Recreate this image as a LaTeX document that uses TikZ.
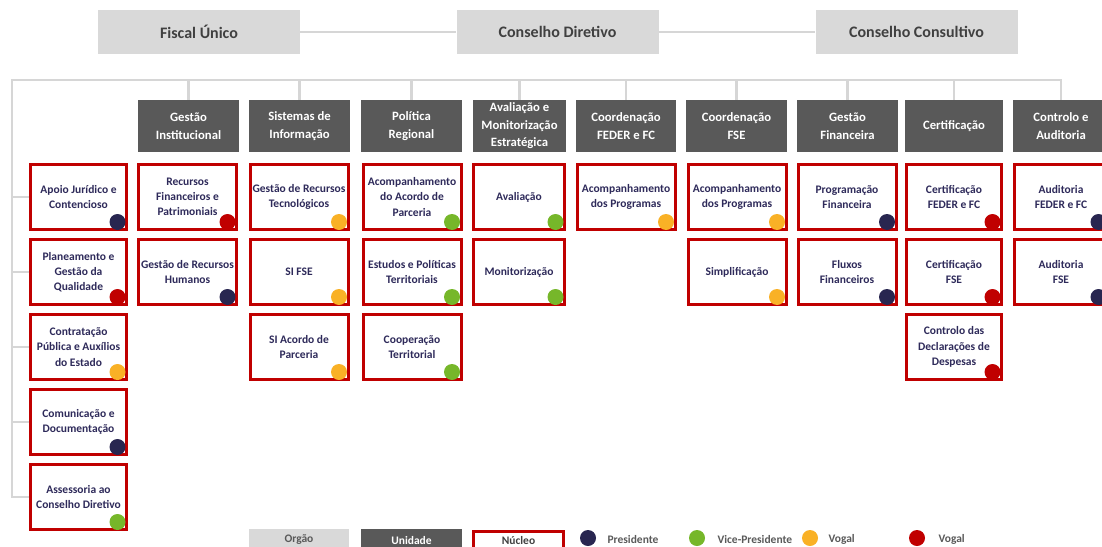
\documentclass[tikz,border=0pt]{standalone}
\usepackage{fontspec}
\setmainfont{Carlito}
\usepackage{tikz}
\usetikzlibrary{positioning}

\definecolor{orggray}{HTML}{D9D9D9}
\definecolor{unitgray}{HTML}{595959}
\definecolor{nucred}{HTML}{C00000}
\definecolor{navytxt}{RGB}{46,42,90}
\definecolor{pres}{RGB}{40,38,80}
\definecolor{vice}{RGB}{118,183,42}
\definecolor{vogal}{RGB}{249,177,38}
\definecolor{vogalr}{HTML}{C00000}
\definecolor{linegray}{HTML}{D6D6D6}
\definecolor{titletxt}{HTML}{404040}

\tikzset{
  orgao/.style={fill=orggray,minimum width=202pt,minimum height=44pt,text=titletxt,font=\fontsize{16}{19}\selectfont\bfseries},
  unidade/.style={fill=unitgray,minimum width=101pt,minimum height=52pt,text=white,align=center,inner sep=1pt,font=\fontsize{12.7}{17.5}\selectfont\bfseries},
  nucleo/.style={draw=nucred,line width=3pt,fill=white,minimum width=98pt,minimum height=65pt,text=navytxt,align=center,inner sep=1pt,font=\fontsize{11.5}{15.3}\selectfont\bfseries},
  dot/.style={circle,minimum size=16pt,inner sep=0pt},
  tree/.style={draw=linegray,line width=2.5pt},
  legtxt/.style={anchor=west,text=unitgray,font=\fontsize{11.5}{14}\selectfont\bfseries},
}

\begin{document}
\begin{tikzpicture}[x=1pt,y=-1pt]
\useasboundingbox (0,0) rectangle (1102,546);

% orgaos
\node[orgao] (fiscal) at (199,32) {Fiscal Único};
\node[orgao] (diretivo) at (557.5,32) {Conselho Diretivo};
\node[orgao] (consultivo) at (916.5,32) {Conselho Consultivo};
\draw[tree] (fiscal) -- (diretivo) -- (consultivo);

% unidades
\node[unidade] (gi) at (188.5,126) {Gestão\\Institucional};
\node[unidade] (si) at (299.5,126) {Sistemas de\\Informação};
\node[unidade] (pr) at (411.5,126) {Política\\Regional};
\node[unidade,minimum width=93pt] (ame) at (519.5,126) {Avaliação e\\Monitorização\\Estratégica};
\node[unidade,minimum width=100pt] (cff) at (626,126) {Coordenação\\FEDER e FC};
\node[unidade] (cfse) at (736.5,126) {Coordenação\\FSE};
\node[unidade] (gf) at (847.5,126) {Gestão\\Financeira};
\node[unidade,minimum width=98pt] (cert) at (954,126) {Certificação};
\node[unidade,minimum width=96pt] (ca) at (1061,126) {Controlo e\\Auditoria};

% nucleos
\node[nucleo,minimum width=96pt] (apoio) at (78.5,197) {Apoio Jurídico e\\Contencioso};
\node[nucleo,minimum width=96pt] (planeam) at (78.5,272) {Planeamento e\\Gestão da\\Qualidade};
\node[nucleo,minimum width=96pt] (contrat) at (78.5,347) {Contratação\\Pública e Auxílios\\do Estado};
\node[nucleo,minimum width=96pt] (comunic) at (78.5,422) {Comunicação e\\Documentação};
\node[nucleo,minimum width=96pt] (assess) at (78.5,497) {Assessoria ao\\Conselho Diretivo};

\node[nucleo] (rfp) at (187.5,197) {Recursos\\Financeiros e\\Patrimoniais};
\node[nucleo] (grh) at (187.5,272) {Gestão de Recursos\\Humanos};

\node[nucleo] (grt) at (299,197) {Gestão de Recursos\\Tecnológicos};
\node[nucleo] (sifse) at (299,272) {SI FSE};
\node[nucleo] (siap) at (299,347) {SI Acordo de\\Parceria};

\node[nucleo] (aap) at (412,197) {Acompanhamento\\do Acordo de\\Parceria};
\node[nucleo] (ept) at (412,272) {Estudos e Políticas\\Territoriais};
\node[nucleo] (coop) at (412,347) {Cooperação\\Territorial};

\node[nucleo,minimum width=91pt] (aval) at (519,197) {Avaliação};
\node[nucleo,minimum width=91pt] (monit) at (519,272) {Monitorização};

\node[nucleo] (apff) at (626,197) {Acompanhamento\\dos Programas};

\node[nucleo] (apfse) at (737,197) {Acompanhamento\\dos Programas};
\node[nucleo] (simpl) at (737,272) {Simplificação};

\node[nucleo] (progf) at (847,197) {Programação\\Financeira};
\node[nucleo] (fluxf) at (847,272) {Fluxos\\Financeiros};

\node[nucleo,minimum width=95pt] (certff) at (954,197) {Certificação\\FEDER e FC};
\node[nucleo,minimum width=95pt] (certfse) at (954,272) {Certificação\\FSE};
\node[nucleo,minimum width=95pt] (cdd) at (954,347) {Controlo das\\Declarações de\\Despesas};

\node[nucleo,minimum width=93pt] (audff) at (1061,197) {Auditoria\\FEDER e FC};
\node[nucleo,minimum width=93pt] (audfse) at (1061,272) {Auditoria\\FSE};

% ligacoes
\coordinate (busL) at (12,80);
\draw[tree] (assess.west) -| (busL) -| (ca.north);
\foreach \u in {gi,si,pr,ame,cff,cfse,gf,cert}
  \draw[tree] (\u.north) -- (\u.north |- busL);
\foreach \n in {apoio,planeam,contrat,comunic}
  \draw[tree] (\n.west) -- (\n.west -| busL);

% cargos
\foreach \n/\c in {apoio/pres,planeam/vogalr,contrat/vogal,comunic/pres,assess/vice,
    rfp/vogalr,grh/pres,grt/vogal,sifse/vogal,siap/vogal,aap/vice,ept/vice,coop/vice,
    aval/vice,monit/vice,apff/vogal,apfse/vogal,simpl/vogal,progf/pres,fluxf/pres,
    certff/vogalr,certfse/vogalr,cdd/vogalr,audff/pres,audfse/pres}
  \node[dot,fill=\c] (\n-d) at ([xshift=-10.5pt,yshift=9pt]\n.south east) {};

% legenda
\node[fill=orggray,minimum width=100pt,minimum height=22pt,text=unitgray,font=\fontsize{11.5}{14}\selectfont\bfseries] (lorg) at (299,540) {Orgão};
\node[fill=unitgray,minimum width=101pt,minimum height=22pt,text=white,font=\fontsize{11.5}{14}\selectfont\bfseries] (luni) at (411.5,540) {Unidade};
\node[draw=nucred,line width=3pt,minimum width=90pt,minimum height=19pt,text=titletxt,font=\fontsize{11.5}{14}\selectfont\bfseries] (lnuc) at (518.5,540.5) {Núcleo};
\node[dot,fill=pres] (lpres) at (588,538) {};
\node[legtxt] (tpres) at (604,539) {Presidente};
\node[dot,fill=vice] (lvice) at (697,538) {};
\node[legtxt] (tvice) at (714,539) {Vice-Presidente};
\node[dot,fill=vogal] (lvogal) at (810,538) {};
\node[legtxt] (tvogal) at (825,539) {Vogal};
\node[dot,fill=vogalr] (lvogalr) at (917,538) {};
\node[legtxt] (tvogalr) at (935,539) {Vogal};
\end{tikzpicture}
\end{document}
